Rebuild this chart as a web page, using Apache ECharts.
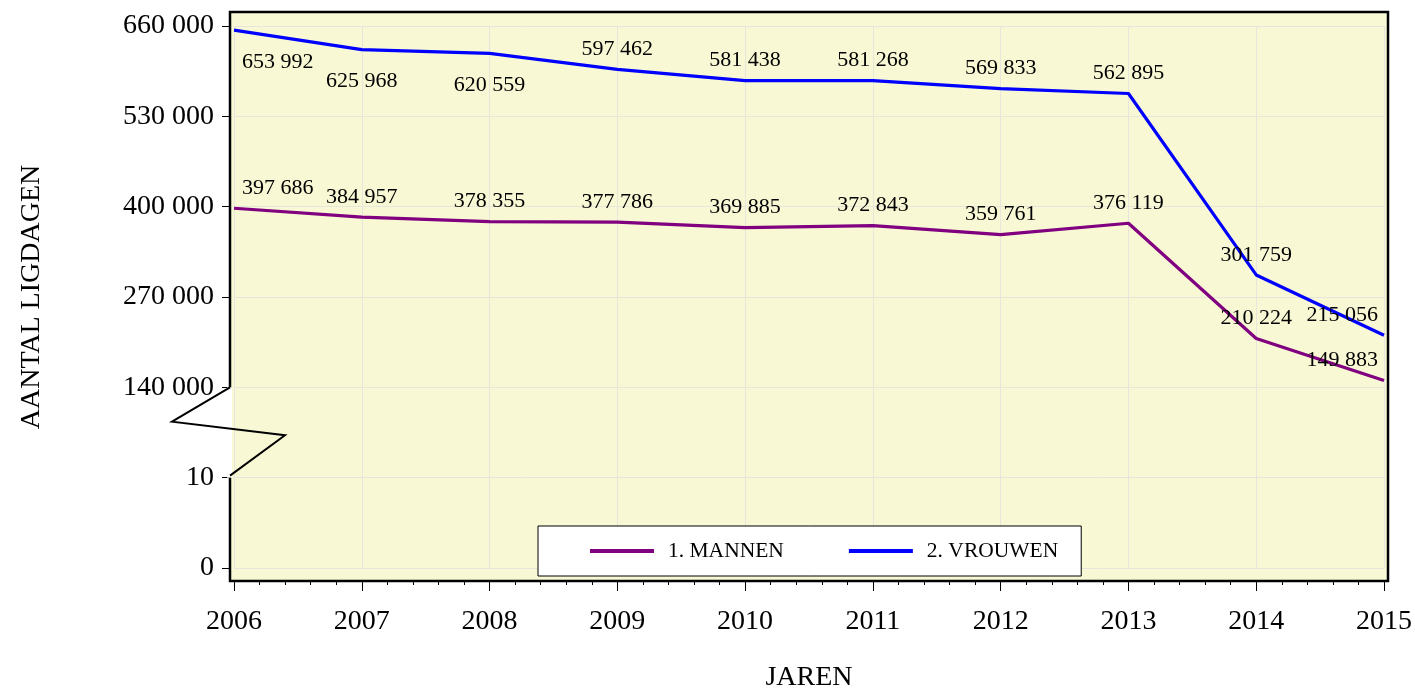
<!DOCTYPE html>
<html>
<head>
<meta charset="utf-8">
<title>Ligdagen</title>
<script src="https://cdn.jsdelivr.net/npm/echarts@6/dist/echarts.min.js"></script>
<style>
  html, body { margin: 0; padding: 0; background: #fff; }
  #main { width: 1415px; height: 697px; }
</style>
</head>
<body>
<div id="main"></div>
<script>
const years = [2006, 2007, 2008, 2009, 2010, 2011, 2012, 2013, 2014, 2015]
const mannen = [397686, 384957, 378355, 377786, 369885, 372843, 359761, 376119, 210224, 149883]
const vrouwen = [653992, 625968, 620559, 597462, 581438, 581268, 569833, 562895, 301759, 215056]
// broken axis: each tick step takes the same height
const yTicks = [0, 10, 140000, 270000, 400000, 530000, 660000]
const vrouwenLabelSide = ['bottom', 'bottom', 'bottom', 'top', 'top', 'top', 'top', 'top', 'top', 'top']

const FONT = 'Liberation Serif'

function toAxis (v) {
  for (let i = 0; i < yTicks.length - 1; i++) {
    if (v <= yTicks[i + 1]) {
      return i + (v - yTicks[i]) / (yTicks[i + 1] - yTicks[i])
    }
  }
  return yTicks.length - 1
}

function fmt (v) {
  return String(v).replace(/\B(?=(\d{3})+(?!\d))/g, ' ')
}

function buildData (values, sides) {
  return values.map((v, i) => {
    const side = sides ? sides[i] : 'top'
    const label = { position: side, distance: side === 'bottom' ? 21 : 9 }
    if (i === 0) {
      label.align = 'left'
      label.offset = [8, 0]
    }
    if (i === values.length - 1) {
      label.align = 'right'
      label.offset = [-6, 0]
    }
    return { value: [years[i], toAxis(v), v], label: label }
  })
}

const seriesLabel = {
  show: true,
  fontFamily: FONT,
  fontSize: 22,
  color: '#000',
  formatter: (p) => fmt(p.value[2])
}

let myChart = echarts.init(document.getElementById('main'))
let option = {
  animation: false,
  textStyle: { fontFamily: FONT },
  grid: { left: 234, right: 30, top: 26, bottom: 122 },
  legend: {
    data: ['1. MANNEN', '2. VROUWEN'],
    left: 538,
    top: 526,
    icon: 'rect',
    itemWidth: 64,
    itemHeight: 4,
    itemGap: 65,
    padding: [14, 23, 14, 52],
    backgroundColor: '#fff',
    borderColor: '#000',
    borderWidth: 1,
    textStyle: { fontFamily: FONT, fontSize: 21.5, color: '#000', padding: [0, 0, 0, 9] }
  },
  xAxis: {
    type: 'value',
    min: 2006,
    max: 2015,
    interval: 1,
    offset: 13,
    name: 'JAREN',
    nameLocation: 'middle',
    nameGap: 83,
    nameTextStyle: { fontFamily: FONT, fontSize: 28, color: '#000' },
    axisLine: { show: false, onZero: false },
    axisTick: { show: true, length: 10, lineStyle: { color: '#000', width: 1 } },
    minorTick: { show: true, splitNumber: 5, length: 4, lineStyle: { color: '#000', width: 1 } },
    axisLabel: { fontFamily: FONT, fontSize: 28, color: '#000', margin: 27, formatter: (v) => String(v) },
    splitLine: { show: true, lineStyle: { color: '#e6e6dc', width: 1 } }
  },
  yAxis: {
    type: 'value',
    min: 0,
    max: yTicks.length - 1,
    interval: 1,
    offset: 4,
    name: 'AANTAL LIGDAGEN',
    nameLocation: 'middle',
    nameGap: 184,
    nameRotate: 90,
    nameTextStyle: { fontFamily: FONT, fontSize: 28, color: '#000' },
    axisLine: { show: false, onZero: false },
    axisTick: { show: true, length: 8, lineStyle: { color: '#000', width: 1 } },
    axisLabel: { fontFamily: FONT, fontSize: 28, color: '#000', margin: 16, formatter: (v) => fmt(yTicks[Math.round(v)]) },
    splitLine: { show: true, lineStyle: { color: '#e6e6dc', width: 1 } }
  },
  series: [
    {
      name: '1. MANNEN',
      type: 'line',
      symbol: 'circle',
      symbolSize: 0.1,
      showSymbol: true,
      data: buildData(mannen),
      lineStyle: { color: '#800080', width: 3.2 },
      itemStyle: { color: '#800080' },
      label: seriesLabel,
      z: 3
    },
    {
      name: '2. VROUWEN',
      type: 'line',
      symbol: 'circle',
      symbolSize: 0.1,
      showSymbol: true,
      data: buildData(vrouwen, vrouwenLabelSide),
      lineStyle: { color: '#0000ff', width: 3.2 },
      itemStyle: { color: '#0000ff' },
      label: seriesLabel,
      z: 3
    }
  ]
}
myChart.setOption(option)

// frame, background and axis break marker, placed from the axis scale
const bl = myChart.convertToPixel({ gridIndex: 0 }, [years[0], 0])
const tr = myChart.convertToPixel({ gridIndex: 0 }, [years[years.length - 1], yTicks.length - 1])
const yBreakTop = myChart.convertToPixel({ gridIndex: 0 }, [years[0], 2])[1]
const yBreakBot = myChart.convertToPixel({ gridIndex: 0 }, [years[0], 1])[1]
const fx = bl[0] - 4
const fy = tr[1] - 14
const fw = tr[0] + 4 - fx
const fh = bl[1] + 13 - fy
const step = yBreakBot - yBreakTop

myChart.setOption({
  graphic: [
    {
      type: 'rect',
      z: -10,
      silent: true,
      shape: { x: fx, y: fy, width: fw, height: fh },
      style: { fill: '#f8f8d4' }
    },
    {
      type: 'rect',
      z: 10,
      silent: true,
      shape: { x: fx, y: fy, width: fw, height: fh },
      style: { fill: null, stroke: '#000', lineWidth: 2.5 }
    },
    {
      type: 'rect',
      z: 11,
      silent: true,
      shape: { x: fx - 3, y: yBreakTop, width: 5, height: step },
      style: { fill: '#fff' }
    },
    {
      type: 'polyline',
      z: 12,
      silent: true,
      shape: {
        points: [
          [fx, yBreakTop],
          [fx - 58, yBreakTop + step * 0.38],
          [fx + 55, yBreakTop + step * 0.53],
          [fx, yBreakBot - 2]
        ]
      },
      style: { fill: null, stroke: '#000', lineWidth: 2 }
    }
  ]
})

window.addEventListener('resize', function () {
  myChart.resize()
})
</script>
</body>
</html>
